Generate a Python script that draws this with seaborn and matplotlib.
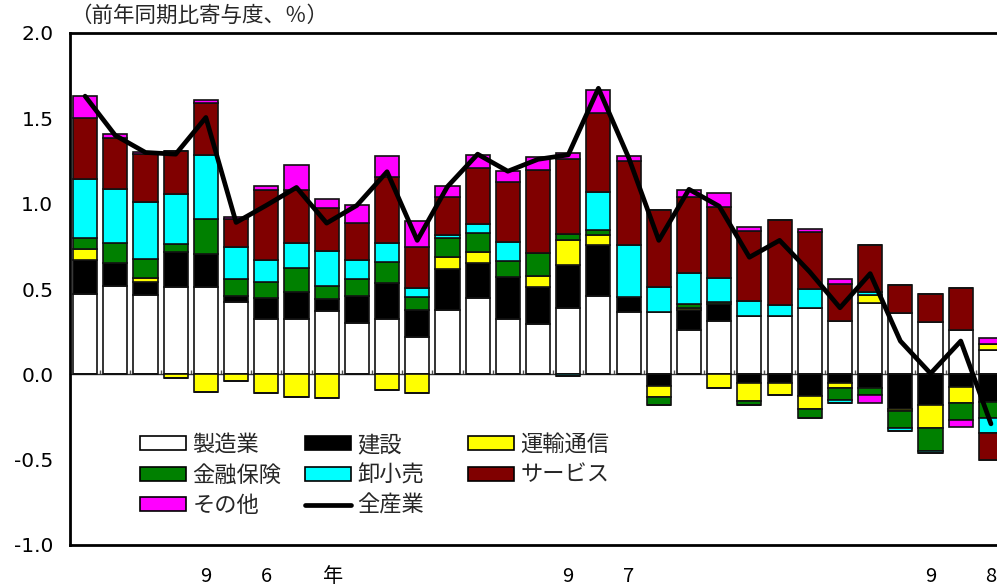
import numpy as np
import matplotlib
matplotlib.use("Agg")
import matplotlib.pyplot as plt
import seaborn as sns
from matplotlib.patches import Patch
from matplotlib.lines import Line2D

# --- datos (contribución interanual, %) ---
n_bars = 31
seizo = [0.47, 0.515, 0.465, 0.512, 0.513, 0.426, 0.324, 0.324, 0.373, 0.299,
         0.322, 0.217, 0.377, 0.445, 0.322, 0.293, 0.39, 0.461, 0.363, 0.363,
         0.26, 0.314, 0.342, 0.342, 0.39, 0.312, 0.42, 0.357, 0.308, 0.26, 0.142]
kensetsu = [0.20, 0.135, 0.078, 0.206, 0.19, 0.033, 0.125, 0.16, 0.066, 0.16,
            0.211, 0.16, 0.238, 0.205, 0.25, 0.22, 0.25, 0.297, 0.09, -0.068,
            0.117, 0.098, -0.053, -0.053, -0.125, -0.049, -0.078, -0.205, -0.18, -0.076, -0.16]
unyu = [0.063, 0.0, 0.02, -0.02, -0.102, -0.037, -0.111, -0.131, -0.141, 0.0,
        -0.092, -0.111, 0.074, 0.065, 0.0, 0.065, 0.147, 0.056, 0.0, -0.067,
        0.013, -0.082, -0.102, -0.068, -0.078, -0.029, 0.045, -0.008, -0.136, -0.09, 0.036]
kinyu = [0.067, 0.119, 0.115, 0.045, 0.207, 0.097, 0.094, 0.141, 0.078, 0.101,
         0.127, 0.074, 0.108, 0.111, 0.092, 0.131, 0.035, 0.031, 0.0, -0.045,
         0.02, 0.01, -0.027, 0.0, -0.055, -0.072, -0.043, -0.103, -0.132, -0.102, -0.098]
oroshi = [0.343, 0.319, 0.334, 0.295, 0.375, 0.188, 0.127, 0.146, 0.205, 0.11,
          0.111, 0.053, 0.019, 0.055, 0.109, 0.0, -0.012, 0.221, 0.307, 0.15,
          0.182, 0.144, 0.087, 0.064, 0.11, -0.016, 0.019, -0.014, -0.011, 0.0, -0.088]
service = [0.36, 0.298, 0.278, 0.25, 0.303, 0.166, 0.41, 0.309, 0.251, 0.218,
           0.387, 0.244, 0.225, 0.33, 0.356, 0.488, 0.441, 0.463, 0.492, 0.447,
           0.445, 0.412, 0.411, 0.497, 0.336, 0.215, 0.274, 0.166, 0.16, 0.244, -0.156]
sonota = [0.127, 0.02, 0.012, 0.0, 0.02, 0.014, 0.023, 0.146, 0.054, 0.102,
          0.121, 0.148, 0.062, 0.074, 0.062, 0.074, 0.035, 0.137, 0.029, 0.0,
          0.043, 0.086, 0.025, 0.0, 0.017, 0.03, -0.049, 0.0, 0.0, -0.043, 0.033]
zensangyo = [1.63, 1.40, 1.30, 1.29, 1.505, 0.89, 0.99, 1.095, 0.886, 0.99,
             1.187, 0.785, 1.10, 1.29, 1.19, 1.26, 1.286, 1.676, 1.27, 0.785,
             1.084, 0.985, 0.686, 0.785, 0.60, 0.39, 0.59, 0.195, 0.005, 0.195, -0.29]

series_names = ["製造業", "建設", "運輸通信", "金融保険", "卸小売", "サービス", "その他"]
series_vals = [seizo, kensetsu, unyu, kinyu, oroshi, service, sonota]
series_colors = ["#FFFFFF", "#000000", "#FFFF00", "#008000", "#00FFFF", "#800000", "#FF00FF"]
total_name = "全産業"

tick_pos = [4, 6, 8.2, 16, 18, 28, 30]
tick_labels = ["9", "6", "年", "9", "7", "9", "8"]

# --- estilo ---
sns.set_theme(style="white")
plt.rcParams["font.family"] = ["DejaVu Sans", "Noto Sans CJK JP"]
jp_font = ["Noto Sans CJK JP", "DejaVu Sans"]

fig = plt.figure(figsize=(9.97, 5.87), dpi=100)
ax = fig.add_axes([70 / 997, 1 - 545 / 587, 927 / 997, 512 / 587])

x = np.arange(n_bars)
pos_base = np.zeros(n_bars)
neg_base = np.zeros(n_bars)
for name, vals, col in zip(series_names, series_vals, series_colors):
    v = np.array(vals)
    pv = np.where(v > 0, v, 0)
    nv = np.where(v < 0, v, 0)
    ax.bar(x, pv, bottom=pos_base, width=0.8, color=col,
           edgecolor="#111111", linewidth=1.2, zorder=2)
    ax.bar(x, nv, bottom=neg_base, width=0.8, color=col,
           edgecolor="#111111", linewidth=1.2, zorder=2)
    pos_base += pv
    neg_base += nv

sns.lineplot(x=x, y=zensangyo, color="black", linewidth=3.4, ax=ax, zorder=3)

ax.set_ylim(-1.0, 2.0)
ax.set_xlim(-0.5, 30.2)
ax.set_yticks(np.arange(-1.0, 2.01, 0.5))
ax.set_yticklabels([f"{t:.1f}" for t in np.arange(-1.0, 2.01, 0.5)], fontsize=14.5)
ax.tick_params(axis="y", direction="in", length=4, width=1, pad=12, colors="black")
ax.set_xticks(tick_pos)
ax.set_xticklabels(tick_labels, fontsize=14.5)
for lab in ax.get_xticklabels():
    lab.set_family(jp_font)
ax.tick_params(axis="x", length=0, pad=15, colors="black")

for s in ["left", "top", "bottom"]:
    ax.spines[s].set_visible(True)
    ax.spines[s].set_color("black")
    ax.spines[s].set_linewidth(2)
ax.spines["right"].set_visible(False)

# eje del cero con marcas entre barras
zero_frac = (0 - (-1.0)) / 3.0
sec = ax.secondary_xaxis(zero_frac)
sec.set_xticks(np.arange(0.5, n_bars, 1.0))
sec.set_xticklabels([])
sec.tick_params(direction="in", length=3, width=1, colors="#555555")
sec.spines["bottom"].set_linewidth(1)
sec.spines["bottom"].set_color("#333333")

ax.text(0.0, 1.033, "（前年同期比寄与度、％）", transform=ax.transAxes,
        fontsize=15.5, ha="left", va="center", family=jp_font)

# leyenda: tres columnas separadas
handles = {name: Patch(facecolor=col, edgecolor="black", linewidth=1.2)
           for name, col in zip(series_names, series_colors)}
handles[total_name] = Line2D([0], [0], color="black", linewidth=3.4)
columns = [["製造業", "金融保険", "その他"],
           ["建設", "卸小売", "全産業"],
           ["運輸通信", "サービス"]]
col_x = [(140 - 70) / 927, (305 - 70) / 927, (468 - 70) / 927]
legends = []
for cx, names in zip(col_x, columns):
    leg = ax.legend([handles[k] for k in names], names, loc="upper left",
                    bbox_to_anchor=(cx, 0.219), ncol=1, frameon=False,
                    handlelength=2.05, handleheight=0.6, handletextpad=0.3,
                    labelspacing=0.34, borderpad=0, borderaxespad=0,
                    prop={"family": jp_font, "size": 16})
    legends.append(leg)
for leg in legends[:-1]:
    ax.add_artist(leg)

fig.savefig("out.png", dpi=100)
